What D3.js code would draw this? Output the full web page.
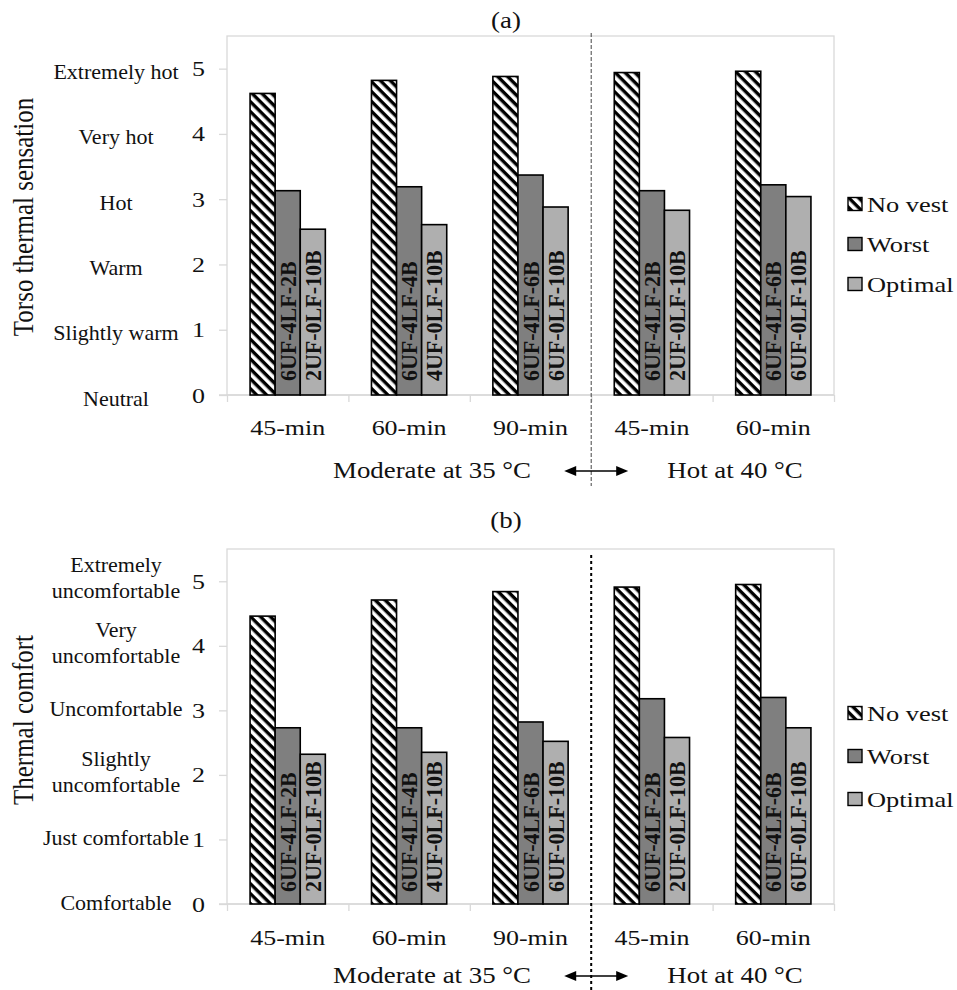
<!DOCTYPE html>
<html>
<head>
<meta charset="utf-8">
<script src="https://cdn.jsdelivr.net/npm/d3@7"></script>
<style>
  body { margin: 0; background: #fff; }
  svg { display: block; }
  text { font-family: "Liberation Serif", "Times New Roman", serif; fill: #111; }
</style>
</head>
<body>
<svg id="chart" width="957" height="990"></svg>
<script>
// data
let categories = ['45-min', '60-min', '90-min', '45-min', '60-min'];
let series = ['No vest', 'Worst', 'Optimal'];
let sensationNoVest = [4.62, 4.82, 4.88, 4.94, 4.96];
let sensationWorst = [3.13, 3.19, 3.37, 3.13, 3.22];
let sensationOptimal = [2.54, 2.61, 2.88, 2.83, 3.04];
let comfortNoVest = [4.46, 4.71, 4.84, 4.91, 4.95];
let comfortWorst = [2.73, 2.73, 2.82, 3.18, 3.20];
let comfortOptimal = [2.32, 2.35, 2.52, 2.58, 2.73];
let worstLabels = ['6UF-4LF-2B', '6UF-4LF-4B', '6UF-4LF-6B', '6UF-4LF-2B', '6UF-4LF-6B'];
let optimalLabels = ['2UF-0LF-10B', '4UF-0LF-10B', '6UF-0LF-10B', '2UF-0LF-10B', '6UF-0LF-10B'];
let yTicks = [0, 1, 2, 3, 4, 5];
let sensationLevels = [['Neutral'], ['Slightly warm'], ['Warm'], ['Hot'], ['Very hot'], ['Extremely hot']];
let comfortLevels = [['Comfortable'], ['Just comfortable'], ['Slightly', 'uncomfortable'], ['Uncomfortable'],
  ['Very', 'uncomfortable'], ['Extremely', 'uncomfortable']];
let groupLabels = ['Moderate at 35 °C', 'Hot at 40 °C'];

let svg = d3.select('#chart');
let fills = {'No vest': 'url(#hatch)', 'Worst': '#7f7f7f', 'Optimal': '#afafaf'};
let SX = 1.18; // the figure is stretched sideways a bit

let defs = svg.append('defs');
defs.append('pattern')
  .attr('id', 'hatch')
  .attr('patternUnits', 'userSpaceOnUse')
  .attr('width', 7).attr('height', 7)
  .attr('patternTransform', 'rotate(45)')
  .call(p => {
    p.append('rect').attr('width', 7).attr('height', 7).attr('fill', '#fff')
    p.append('rect').attr('width', 7).attr('height', 3.4).attr('fill', '#000')
  })

let stretchText = (g, x, y, str, size, sx, anchor) => {
  return g.append('text')
    .attr('transform', `translate(${x},${y}) scale(${sx},1)`)
    .attr('text-anchor', anchor || 'middle')
    .style('font-size', size + 'px')
    .text(str)
}

let drawPanel = (cfg) => {
  let g = svg.append('g');
  let x0 = d3.scaleBand().domain(d3.range(categories.length)).range([227, 834]);
  let bw = x0.bandwidth();
  let groupW = bw * 0.62;
  let x1 = d3.scaleBand().domain(series).range([0, groupW]);
  let y = d3.scaleLinear().domain([0, 5.5]).range([cfg.bottom, cfg.top]);

  // plot frame
  g.append('rect')
    .attr('x', 227).attr('y', cfg.top)
    .attr('width', 834 - 227).attr('height', cfg.bottom - cfg.top)
    .attr('fill', 'none').attr('stroke', '#d9d9d9').attr('stroke-width', 1.3)

  // y axis ticks
  let yAxis = d3.axisLeft(y).tickValues(yTicks).tickSize(8).tickFormat('');
  let ya = g.append('g').attr('transform', 'translate(227,0)').call(yAxis);
  ya.select('.domain').remove();
  ya.selectAll('line').attr('stroke', '#d9d9d9').attr('stroke-width', 1.3);
  yTicks.forEach(t => {
    stretchText(g, 205, y(t) + 7.5, t, 22, SX, 'end')
  })

  // x axis boundaries
  let bounds = d3.range(categories.length + 1).map(i => 227 + i * bw);
  let xAxis = d3.axisBottom(d3.scaleLinear().domain([0, categories.length]).range([227, 834]))
    .tickValues(d3.range(categories.length + 1)).tickSize(7).tickFormat('');
  let xa = g.append('g').attr('transform', `translate(0,${cfg.bottom})`).call(xAxis);
  xa.select('.domain').attr('stroke', '#d9d9d9').attr('stroke-width', 1.3).attr('d', 'M219,0H834');
  xa.selectAll('line').attr('stroke', '#d9d9d9').attr('stroke-width', 1.3);

  categories.forEach((c, i) => {
    stretchText(g, x0(i) + bw / 2, cfg.bottom + cfg.xLabelDy, c, 22, SX)
  })

  // level names
  cfg.levels.forEach((lines, i) => {
    let cy = y(yTicks[i]) + (lines.length > 1 ? cfg.multiShift : cfg.singleShift);
    lines.forEach((ln, k) => {
      let ly = cy + (k - (lines.length - 1) / 2) * 26 + 7;
      stretchText(g, 116, ly, ln, 22, 1)
    })
  })

  // axis title
  g.append('text')
    .attr('transform', `translate(33,${cfg.titleY}) scale(${SX},1) rotate(-90)`)
    .attr('text-anchor', 'middle')
    .style('font-size', '25px')
    .text(cfg.yTitle)

  // bars
  let rows = categories.map((c, i) => ({
    i: i,
    vals: [
      {s: 'No vest', v: cfg.noVest[i]},
      {s: 'Worst', v: cfg.worst[i], label: worstLabels[i]},
      {s: 'Optimal', v: cfg.optimal[i], label: optimalLabels[i]}
    ]
  }));

  let block = g.selectAll('g.cat')
    .data(rows)
    .enter()
    .append('g')
    .attr('class', 'cat')
    .attr('transform', d => `translate(${x0(d.i) + (bw - groupW) / 2},0)`);

  block.selectAll('rect')
    .data(d => d.vals)
    .enter()
    .append('rect')
    .attr('x', d => x1(d.s))
    .attr('y', d => y(d.v))
    .attr('width', x1.bandwidth())
    .attr('height', d => y(0) - y(d.v))
    .attr('fill', d => fills[d.s])
    .attr('stroke', '#000')
    .attr('stroke-width', 1.6)

  block.selectAll('text.bl')
    .data(d => d.vals.filter(v => v.label))
    .enter()
    .append('text')
    .attr('class', 'bl')
    .attr('transform', d => `translate(${x1(d.s) + x1.bandwidth() / 2},${y(0) - cfg.labelGap}) scale(1.08,1) rotate(-90)`)
    .attr('dy', '0.34em')
    .style('font-size', '22px')
    .style('font-weight', 'bold')
    .style('fill', '#111')
    .text(d => d.label)

  // split line between the two climates
  let splitX = bounds[3];
  g.append('line')
    .attr('x1', splitX).attr('x2', splitX)
    .attr('y1', cfg.splitTop).attr('y2', cfg.splitBottom)
    .attr('stroke', cfg.splitColor).attr('stroke-width', cfg.splitWidth)
    .attr('stroke-dasharray', cfg.splitDash)

  // double arrow
  let ay = cfg.bottom + cfg.arrowDy;
  let ax1 = splitX - 27, ax2 = splitX + 37;
  g.append('line')
    .attr('x1', ax1 + 8).attr('x2', ax2 - 8)
    .attr('y1', ay).attr('y2', ay)
    .attr('stroke', '#000').attr('stroke-width', 1.3)
  g.append('path')
    .attr('d', `M${ax1},${ay}L${ax1 + 12},${ay - 5}L${ax1 + 12},${ay + 5}Z`)
    .attr('fill', '#000')
  g.append('path')
    .attr('d', `M${ax2},${ay}L${ax2 - 12},${ay - 5}L${ax2 - 12},${ay + 5}Z`)
    .attr('fill', '#000')

  stretchText(g, 432, cfg.bottom + cfg.groupDy, groupLabels[0], 24, 1.12)
  stretchText(g, 735, cfg.bottom + cfg.groupDy, groupLabels[1], 24, 1.12)

  // panel letter
  stretchText(g, 506, cfg.letterY, cfg.letter, 24, 1.12)

  // legend
  series.forEach((s, k) => {
    let cy = cfg.bottom + cfg.legendDy + k * cfg.legendStep;
    g.append('rect')
      .attr('x', 848).attr('y', cy - 6.5)
      .attr('width', 14).attr('height', 13)
      .attr('fill', fills[s]).attr('stroke', '#000').attr('stroke-width', 1.4)
    stretchText(g, 867, cy + 7.5, s, 22, 1.2, 'start')
  })
}

drawPanel({
  top: 36, bottom: 395, letter: '(a)', letterY: 28,
  noVest: sensationNoVest, worst: sensationWorst, optimal: sensationOptimal,
  levels: sensationLevels, singleShift: 3.5, multiShift: 0,
  yTitle: 'Torso thermal sensation', titleY: 217,
  xLabelDy: 40, groupDy: 83, arrowDy: 76, labelGap: 14,
  splitTop: 33, splitBottom: 486, splitColor: '#444', splitWidth: 1, splitDash: '4,2',
  legendDy: -191, legendStep: 40
})

drawPanel({
  top: 549, bottom: 904, letter: '(b)', letterY: 528,
  noVest: comfortNoVest, worst: comfortWorst, optimal: comfortOptimal,
  levels: comfortLevels, singleShift: -1, multiShift: -3,
  yTitle: 'Thermal comfort', titleY: 720,
  xLabelDy: 41, groupDy: 79, arrowDy: 72, labelGap: 12,
  splitTop: 555, splitBottom: 990, splitColor: '#000', splitWidth: 2, splitDash: '3,3',
  legendDy: -191, legendStep: 43
})
</script>
</body>
</html>
